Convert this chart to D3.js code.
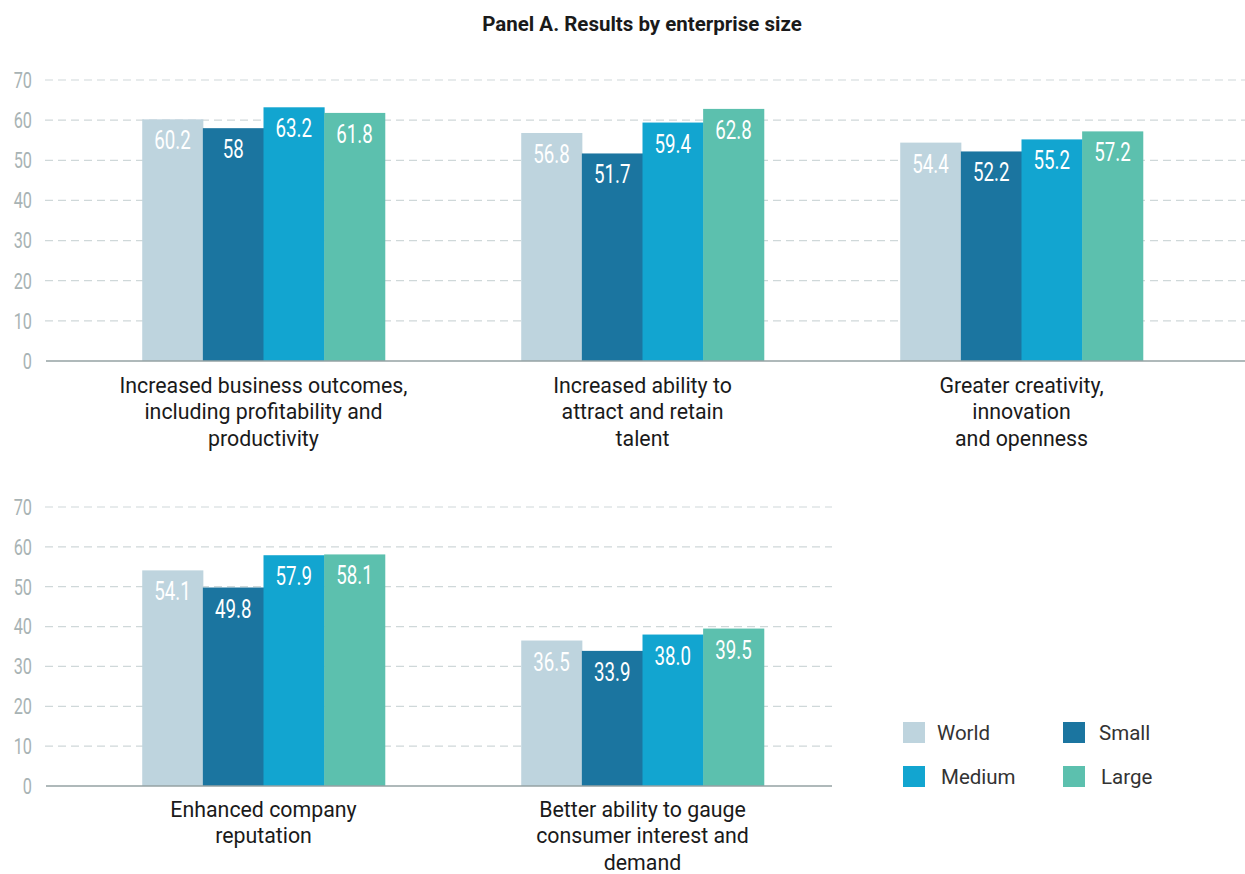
<!DOCTYPE html>
<html>
<head>
<meta charset="utf-8">
<script src="https://cdn.jsdelivr.net/npm/d3@7"></script>
<style>
  html, body { margin: 0; padding: 0; background: #ffffff; }
  svg { display: block; }
</style>
</head>
<body>
<script>
// Share of respondents reporting each benefit, by enterprise size
const categories = [
  ["Increased business outcomes,", "including profitability and", "productivity"],
  ["Increased ability to", "attract and retain", "talent"],
  ["Greater creativity,", "innovation", "and openness"],
  ["Enhanced company", "reputation"],
  ["Better ability to gauge", "consumer interest and", "demand"]
];
const seriesNames = ["World", "Small", "Medium", "Large"];
const world  = [60.2, 56.8, 54.4, 54.1, 36.5];
const small  = [58,   51.7, 52.2, 49.8, 33.9];
const medium = [63.2, 59.4, 55.2, 57.9, 38.0];
const large  = [61.8, 62.8, 57.2, 58.1, 39.5];
const yTicks = [0, 10, 20, 30, 40, 50, 60, 70];
const title = "Panel A. Results by enterprise size";

const seriesValues = [world, small, medium, large];
const colors = ["#bed4de", "#1b75a0", "#12a5d0", "#5cc0ae"];

const W = 1245, H = 874;
const svg = d3.select("body").append("svg").attr("width", W).attr("height", H);

svg.append("text")
  .attr("x", 642).attr("y", 31)
  .attr("text-anchor", "middle")
  .attr("font-family", "Roboto, sans-serif")
  .attr("font-weight", 700)
  .attr("font-size", 20.5)
  .attr("fill", "#1a1a1a")
  .text(title);

const step = 379;
const panels = [
  { idx: [0, 1, 2], y0: 361, y70: 80, gridEnd: 1245, labelY: 393, fixed: false },
  { idx: [3, 4],    y0: 786, y70: 507, gridEnd: 832, labelY: 817, fixed: true }
];

panels.forEach(p => {
  const g = svg.append("g");
  const y = d3.scaleLinear().domain([0, 70]).range([p.y0, p.y70]);
  const x0 = d3.scaleBand()
    .domain(p.idx)
    .range([74, 74 + step * p.idx.length])
    .paddingInner(0.36)
    .paddingOuter(0.18);
  const x1 = d3.scaleBand()
    .domain(d3.range(seriesNames.length))
    .range([0, x0.bandwidth()]);

  // dashed gridlines
  g.append("g").selectAll("line")
    .data(yTicks.filter(t => t > 0))
    .join("line")
    .attr("x1", 45).attr("x2", p.gridEnd)
    .attr("y1", d => y(d)).attr("y2", d => y(d))
    .attr("stroke", "#cfd8d9")
    .attr("stroke-width", 1.2)
    .attr("stroke-dasharray", "8,5");

  // y tick labels
  g.append("g").selectAll("text")
    .data(yTicks)
    .join("text")
    .attr("transform", d => `translate(32,${y(d)}) scale(0.74,1)`)
    .attr("dy", "0.36em")
    .attr("text-anchor", "end")
    .attr("font-family", "Roboto, sans-serif")
    .attr("font-size", 22)
    .attr("fill", "#a8b3b4")
    .text(d => d);

  // bars
  const groups = g.append("g").selectAll("g")
    .data(p.idx)
    .join("g")
    .attr("transform", i => `translate(${x0(i)},0)`);

  const cells = d => seriesValues.map((vals, s) => ({ s, v: vals[d] }));

  groups.selectAll("rect")
    .data(cells)
    .join("rect")
    .attr("x", d => x1(d.s))
    .attr("width", x1.bandwidth() + 0.5)
    .attr("y", d => y(d.v))
    .attr("height", d => y(0) - y(d.v))
    .attr("fill", d => colors[d.s]);

  groups.selectAll("text")
    .data(cells)
    .join("text")
    .attr("transform", d => `translate(${x1(d.s) + x1.bandwidth() / 2},${y(d.v) + 30}) scale(0.72,1)`)
    .attr("text-anchor", "middle")
    .attr("font-family", "Roboto, sans-serif")
    .attr("font-size", 26)
    .attr("fill", "#ffffff")
    .text(d => p.fixed ? d.v.toFixed(1) : String(d.v));

  // baseline
  g.append("line")
    .attr("x1", 46).attr("x2", p.gridEnd)
    .attr("y1", y(0)).attr("y2", y(0))
    .attr("stroke", "#95a2a3")
    .attr("stroke-width", 1.6);

  // category labels
  const lab = g.append("g").selectAll("text")
    .data(p.idx)
    .join("text")
    .attr("transform", i => `translate(${x0(i) + x0.bandwidth() / 2},${p.labelY}) scale(0.97,1)`)
    .attr("text-anchor", "middle")
    .attr("font-family", "Roboto, sans-serif")
    .attr("font-size", 22)
    .attr("fill", "#1a1a1a");
  lab.selectAll("tspan")
    .data(i => categories[i])
    .join("tspan")
    .attr("x", 0)
    .attr("dy", (d, k) => k === 0 ? 0 : 26.5)
    .text(d => d);
});

// legend
const legendPos = [
  { x: 903, y: 722, tx: 937, ty: 740 },
  { x: 1063, y: 722, tx: 1099, ty: 740 },
  { x: 903, y: 766, tx: 941, ty: 784 },
  { x: 1063, y: 766, tx: 1101, ty: 784 }
];
const lg = svg.append("g").selectAll("g")
  .data(seriesNames)
  .join("g");
lg.append("rect")
  .attr("x", (d, i) => legendPos[i].x)
  .attr("y", (d, i) => legendPos[i].y)
  .attr("width", 22).attr("height", 21)
  .attr("fill", (d, i) => colors[i]);
lg.append("text")
  .attr("x", (d, i) => legendPos[i].tx)
  .attr("y", (d, i) => legendPos[i].ty)
  .attr("font-family", "Roboto, sans-serif")
  .attr("font-size", 20.5)
  .attr("fill", "#333333")
  .text(d => d);
</script>
</body>
</html>
